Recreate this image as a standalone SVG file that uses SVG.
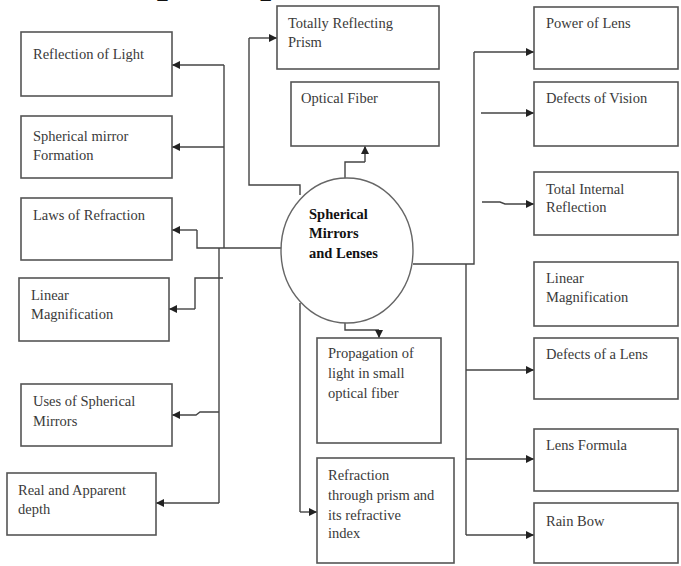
<svg xmlns="http://www.w3.org/2000/svg" width="681" height="566" viewBox="0 0 681 566">
  <style>
    .box { fill: #ffffff; stroke: #555555; stroke-width: 1.6; }
    .hub { fill: #ffffff; stroke: #666666; stroke-width: 1.4; }
    .lbl { font-family: "Liberation Serif", "Times New Roman", serif; font-size: 14.5px; fill: #3a3a3a; }
    .hubtxt { font-family: "Liberation Serif", "Times New Roman", serif; font-size: 14.5px; font-weight: bold; fill: #111111; }
    .title { font-family: "Liberation Serif", "Times New Roman", serif; font-size: 40px; font-weight: bold; fill: #111111; }
    .wire { fill: none; stroke: #444444; stroke-width: 1.4; }
    .arr { marker-end: url(#head); }
  </style>
  <defs>
    <marker id="head" viewBox="0 0 10 10" refX="10" refY="5" markerWidth="8" markerHeight="8" markerUnits="userSpaceOnUse" orient="auto">
      <path d="M0,0 L10,5 L0,10 Z" fill="#222222"/>
    </marker>
  </defs>

  <rect width="681" height="566" fill="#ffffff"/>

  <!-- heading, mostly above the top edge -->
  <text class="title" x="50" y="-8">Concept Map</text>

  <g id="connectors">
    <!-- left trunk -->
    <path class="wire" d="M224,65 V248"/>
    <path class="wire arr" d="M224,65 H172"/>
    <path class="wire arr" d="M224,147 H172"/>
    <path class="wire" d="M282,248 H197 V230"/>
    <path class="wire arr" d="M197,230 H172"/>
    <path class="wire" d="M219,248 V503"/>
    <path class="wire" d="M223,278 H195 V309"/>
    <path class="wire arr" d="M195,309 H169"/>
    <path class="wire arr" d="M219,412 H200 L196,415 H172"/>
    <path class="wire arr" d="M219,503 H156"/>
    <!-- top branches -->
    <path class="wire" d="M300,195 V185 H249 V38"/>
    <path class="wire arr" d="M249,38 H277"/>
    <path class="wire" d="M345,178 V162 H365"/>
    <path class="wire arr" d="M365,162 V146"/>
    <!-- bottom branches -->
    <path class="wire" d="M345,323 V330 H379"/>
    <path class="wire arr" d="M379,330 V338"/>
    <path class="wire" d="M300,303 V512"/>
    <path class="wire arr" d="M300,512 H317"/>
    <!-- right trunk -->
    <path class="wire" d="M413,264 H474 V52"/>
    <path class="wire arr" d="M474,52 H534"/>
    <path class="wire arr" d="M481,113 H534"/>
    <path class="wire arr" d="M482,202 H500 L505,204 H534"/>
    <path class="wire" d="M466,264 V535"/>
    <path class="wire arr" d="M466,370 H534"/>
    <path class="wire arr" d="M466,459 H534"/>
    <path class="wire arr" d="M466,535 H534"/>
  </g>

  <g id="hub">
    <ellipse class="hub" cx="347" cy="250.5" rx="66" ry="72.5"/>
    <text class="hubtxt" x="309" y="219">Spherical</text>
    <text class="hubtxt" x="309" y="238">Mirrors</text>
    <text class="hubtxt" x="309" y="258">and Lenses</text>
  </g>

  <!-- left column -->
  <g id="reflection-of-light">
    <rect class="box" x="21" y="32" width="151" height="64"/>
    <text class="lbl" x="33" y="59">Reflection of Light</text>
  </g>
  <g id="spherical-mirror-formation">
    <rect class="box" x="21" y="116" width="151" height="62"/>
    <text class="lbl" x="33" y="141">Spherical mirror</text>
    <text class="lbl" x="33" y="160">Formation</text>
  </g>
  <g id="laws-of-refraction">
    <rect class="box" x="21" y="198" width="151" height="62"/>
    <text class="lbl" x="33" y="220">Laws of Refraction</text>
  </g>
  <g id="linear-magnification-left">
    <rect class="box" x="19" y="278" width="150" height="63"/>
    <text class="lbl" x="31" y="300">Linear</text>
    <text class="lbl" x="31" y="319">Magnification</text>
  </g>
  <g id="uses-of-spherical-mirrors">
    <rect class="box" x="21" y="384" width="151" height="62"/>
    <text class="lbl" x="33" y="406">Uses of Spherical</text>
    <text class="lbl" x="33" y="426">Mirrors</text>
  </g>
  <g id="real-and-apparent-depth">
    <rect class="box" x="7" y="473" width="149" height="62"/>
    <text class="lbl" x="18" y="495">Real and Apparent</text>
    <text class="lbl" x="18" y="514">depth</text>
  </g>

  <!-- middle column -->
  <g id="totally-reflecting-prism">
    <rect class="box" x="277" y="6" width="162" height="63"/>
    <text class="lbl" x="288" y="28">Totally Reflecting</text>
    <text class="lbl" x="288" y="47">Prism</text>
  </g>
  <g id="optical-fiber">
    <rect class="box" x="291" y="82" width="148" height="64"/>
    <text class="lbl" x="301" y="103">Optical Fiber</text>
  </g>
  <g id="propagation-of-light">
    <rect class="box" x="317" y="338" width="124" height="105"/>
    <text class="lbl" x="328" y="358">Propagation of</text>
    <text class="lbl" x="328" y="378">light in small</text>
    <text class="lbl" x="328" y="398">optical fiber</text>
  </g>
  <g id="refraction-through-prism">
    <rect class="box" x="317" y="458" width="137" height="105"/>
    <text class="lbl" x="328" y="480">Refraction</text>
    <text class="lbl" x="328" y="500">through prism and</text>
    <text class="lbl" x="328" y="520">its refractive</text>
    <text class="lbl" x="328" y="538">index</text>
  </g>

  <!-- right column -->
  <g id="power-of-lens">
    <rect class="box" x="534" y="7" width="144" height="62"/>
    <text class="lbl" x="546" y="28">Power of Lens</text>
  </g>
  <g id="defects-of-vision">
    <rect class="box" x="534" y="82" width="144" height="64"/>
    <text class="lbl" x="546" y="103">Defects of Vision</text>
  </g>
  <g id="total-internal-reflection">
    <rect class="box" x="534" y="172" width="144" height="63"/>
    <text class="lbl" x="546" y="194">Total Internal</text>
    <text class="lbl" x="546" y="212">Reflection</text>
  </g>
  <g id="linear-magnification-right">
    <rect class="box" x="534" y="262" width="144" height="64"/>
    <text class="lbl" x="546" y="283">Linear</text>
    <text class="lbl" x="546" y="302">Magnification</text>
  </g>
  <g id="defects-of-a-lens">
    <rect class="box" x="534" y="338" width="144" height="61"/>
    <text class="lbl" x="546" y="359">Defects of a Lens</text>
  </g>
  <g id="lens-formula">
    <rect class="box" x="534" y="429" width="144" height="62"/>
    <text class="lbl" x="546" y="450">Lens Formula</text>
  </g>
  <g id="rain-bow">
    <rect class="box" x="534" y="503" width="144" height="60"/>
    <text class="lbl" x="546" y="526">Rain Bow</text>
  </g>
</svg>
